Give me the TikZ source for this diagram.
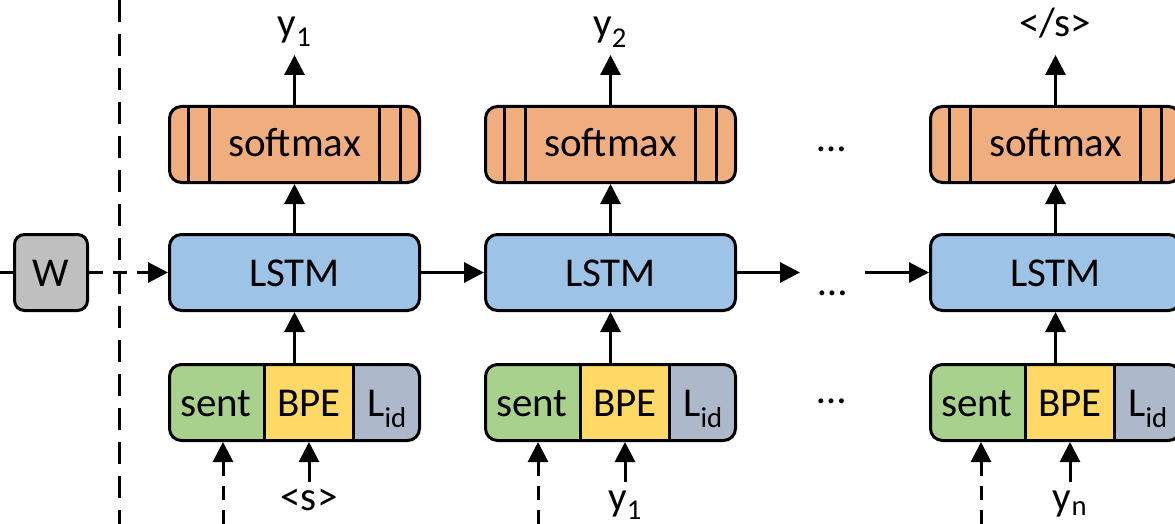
\documentclass[tikz,border=0pt]{standalone}
\usepackage{fontspec}
\setmainfont{Carlito}
\usetikzlibrary{arrows.meta, positioning}
\definecolor{orng}{HTML}{F0AE7E}
\definecolor{blu}{HTML}{9DC3E6}
\definecolor{grn}{HTML}{A9D18E}
\definecolor{ylw}{HTML}{FFD966}
\definecolor{slt}{HTML}{ADB9CA}
\definecolor{gry}{HTML}{BFBFBF}

\begin{document}
\begin{tikzpicture}[x=1pt, y=-1pt, line width=3pt, >={Triangle[length=20pt,width=20pt]},
        every node/.style={font=\fontsize{41}{49}\selectfont},
        box/.style={draw, rounded corners=12pt, minimum width=250pt, minimum height=76pt,
            inner sep=0pt, text height=27pt, text depth=0pt},
        lstm/.style={box, fill=blu},
        smax/.style={box, fill=orng, text height=24pt, path picture={
            \foreach \d in {19pt, 40pt}
                \draw[line width=3pt, sharp corners]
                    ([xshift=\d]path picture bounding box.north west) -- ([xshift=\d]path picture bounding box.south west)
                    ([xshift=-\d]path picture bounding box.north east) -- ([xshift=-\d]path picture bounding box.south east);}},
        emb/.style={box, path picture={
            \fill[grn, sharp corners] (path picture bounding box.north west) rectangle ([xshift=95pt]path picture bounding box.south west);
            \fill[ylw, sharp corners] ([xshift=95pt]path picture bounding box.north west) rectangle ([xshift=184pt]path picture bounding box.south west);
            \fill[slt, sharp corners] ([xshift=184pt]path picture bounding box.north west) rectangle (path picture bounding box.south east);
            \draw[line width=3pt, sharp corners]
                ([xshift=95pt]path picture bounding box.north west) -- ([xshift=95pt]path picture bounding box.south west)
                ([xshift=184pt]path picture bounding box.north west) -- ([xshift=184pt]path picture bounding box.south west);}},
        wbox/.style={draw, fill=gry, rounded corners=10pt, minimum width=73pt, minimum height=76pt,
            inner sep=0pt, text height=27pt, text depth=0pt},
        part/.style={inner sep=0pt, text height=27pt, text depth=0pt},
        outlab/.style={anchor=base, inner sep=0pt, text depth=10pt, outer sep=8pt},
        inlab/.style={anchor=base, inner sep=0pt, text height=20pt, outer sep=8pt},
        dots/.style={inner sep=0pt}]
        \useasboundingbox (0,0) rectangle (1175,524);

        % LSTM row
        \node[lstm] (lstm_1) at (294.5,272.5) {LSTM};
        \node[lstm] (lstm_2) [right=63pt of lstm_1] {LSTM};
        \node[lstm] (lstm_3) [right=192pt of lstm_2] {LSTM};

        % softmax row
        \node[smax] (sm_1) [above=49pt of lstm_1] {softmax};
        \node[smax] (sm_2) [above=49pt of lstm_2] {softmax};
        \node[smax] (sm_3) [above=49pt of lstm_3] {softmax};

        % input row
        \node[emb] (emb_1) [below=51pt of lstm_1] {};
        \node[emb] (emb_2) [below=51pt of lstm_2] {};
        \node[emb] (emb_3) [below=51pt of lstm_3] {};
        \node[part] (sent_1) at ([xshift=48pt]emb_1.west) {sent};
        \node[part] (bpe_1) at ([xshift=141pt]emb_1.west) {BPE};
        \node[part] (lid_1) at ([xshift=219pt]emb_1.west) {L\textsubscript{id}};
        \node[part] (sent_2) at ([xshift=48pt]emb_2.west) {sent};
        \node[part] (bpe_2) at ([xshift=141pt]emb_2.west) {BPE};
        \node[part] (lid_2) at ([xshift=219pt]emb_2.west) {L\textsubscript{id}};
        \node[part] (sent_3) at ([xshift=48pt]emb_3.west) {sent};
        \node[part] (bpe_3) at ([xshift=141pt]emb_3.west) {BPE};
        \node[part] (lid_3) at ([xshift=219pt]emb_3.west) {L\textsubscript{id}};

        \node[wbox] (w) at (51,272.5) {W};

        % labels
        \node[outlab] (out_1) at (294.5,37) {y\textsubscript{1}};
        \node[outlab] (out_2) at (610,37) {y\textsubscript{2}};
        \node[outlab] (out_3) at (1055,37) {</s>};
        \node[inlab] (in_1) at (bpe_1 |- 0,510) {<s>};
        \node[inlab] (in_2) at (bpe_2 |- 0,510) {y\textsubscript{1}};
        \node[inlab] (in_3) at (bpe_3 |- 0,510) {y\textsubscript{n}};

        \node[dots] (dots_a) at (832,149) {…};
        \node[dots] (dots_b) at (833,293) {…};
        \node[dots] (dots_c) at (832,401) {…};

        \coordinate (h_a) at (800,272.5);
        \coordinate (h_b) at (865,272.5);
        \coordinate (w_in) at (0,272.5);
        \coordinate (sep_t) at (119.5,0);
        \coordinate (sep_b) at (119.5,524);
        \coordinate (d_1) at (223,524);
        \coordinate (d_2) at (538,524);
        \coordinate (d_3) at (981,524);

        \draw[dash pattern=on 22pt off 12pt] (sep_t) -- (sep_b);
        \draw[dash pattern=on 14pt off 10pt] (w_in) -- (w);

        \path[->] (lstm_1) edge (sm_1)
        (lstm_2) edge (sm_2)
        (lstm_3) edge (sm_3)
        (emb_1) edge (lstm_1)
        (emb_2) edge (lstm_2)
        (emb_3) edge (lstm_3)
        (sm_1.north) edge (sm_1.north |- out_1.south)
        (sm_2.north) edge (sm_2.north |- out_2.south)
        (sm_3.north) edge (sm_3.north |- out_3.south)
        (in_1.north) edge (in_1.north |- emb_1.south)
        (in_2.north) edge (in_2.north |- emb_2.south)
        (in_3.north) edge (in_3.north |- emb_3.south)
        (lstm_1) edge (lstm_2)
        (lstm_2) edge (h_a)
        (h_b) edge (lstm_3);
        \path[->, dash pattern=on 14pt off 10pt] (w) edge (lstm_1)
        (d_1) edge (d_1 |- emb_1.south)
        (d_2) edge (d_2 |- emb_2.south)
        (d_3) edge (d_3 |- emb_3.south);
    \end{tikzpicture}
\end{document}
